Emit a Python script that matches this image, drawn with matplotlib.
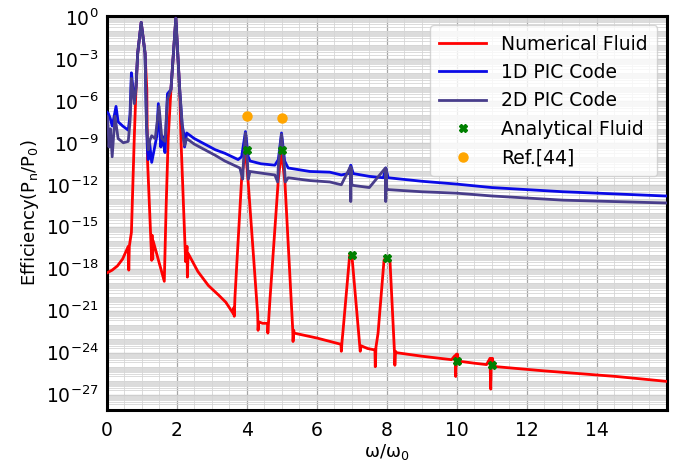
import numpy as np
import matplotlib
matplotlib.use("Agg")
import matplotlib.pyplot as plt
from matplotlib.ticker import LogLocator, MultipleLocator, NullFormatter

# Harmonic spectrum: frequency (omega/omega_0) and log10 of efficiency P_n/P_0

fluid_freq = [0.0, 0.15, 0.3, 0.45, 0.61, 0.625, 0.64, 0.7, 0.78, 0.83, 0.88, 0.98,
              1.09, 1.14, 1.16, 1.28, 1.29, 1.31, 1.32, 1.64, 1.69, 1.75, 1.83, 1.97,
              2.08, 2.12, 2.25, 2.29, 2.3, 2.32, 2.6, 2.9, 3.2, 3.4, 3.61, 3.62, 3.64,
              3.66, 3.85, 3.96, 4.04, 4.31, 4.32, 4.34, 4.45, 4.59, 4.6, 4.62, 4.66,
              4.9, 4.99, 5.09, 5.31, 5.32, 5.34, 5.35, 6.0, 6.69, 6.7, 6.72, 6.75,
              6.94, 7.0, 7.23, 7.24, 7.26, 7.45, 7.66, 7.67, 7.69, 7.75, 7.92, 7.97,
              8.09, 8.22, 8.23, 8.25, 8.28, 9.0, 9.85, 9.95, 9.97, 9.99, 10.0, 10.02,
              10.04, 10.5, 10.85, 10.95, 10.97, 10.99, 11.0, 11.02, 11.05, 11.13,
              12.5, 14.56, 16.0]
fluid_log_eff = [-18.3, -18.1, -17.8, -17.3, -16.4, -18.1, -16.4, -15.4, -8.8, -5.2,
                 -2.6, -0.4, -2.6, -5.2, -10.2, -17.4, -15.6, -17.3, -16.0, -18.9,
                 -13.8, -8.8, -5.2, -0.1, -5.2, -9.0, -17.5, -16.4, -18.6, -16.9,
                 -18.2, -19.2, -19.9, -20.4, -21.2, -20.8, -21.4, -20.0, -11.6, -9.5,
                 -11.9, -21.3, -22.4, -21.8, -21.9, -21.9, -22.6, -21.8, -20.2, -11.6,
                 -9.6, -11.9, -22.3, -23.2, -22.4, -22.6, -22.95, -23.4, -23.9, -23.2,
                 -22.4, -17.0, -17.0, -23.6, -23.9, -23.5, -23.7, -23.8, -25.0, -23.6,
                 -22.6, -17.4, -17.2, -17.4, -24.0, -24.9, -23.9, -24.0, -24.25, -24.5,
                 -24.2, -25.7, -24.1, -24.6, -24.1, -24.6, -24.75, -24.85, -24.4,
                 -26.6, -24.4, -24.9, -24.4, -24.9, -25.0, -25.3, -25.7, -26.05]

pic1d_freq = [0.0, 0.04, 0.1, 0.15, 0.2, 0.26, 0.32, 0.45, 0.61, 0.66, 0.7, 0.74,
              0.78, 0.83, 0.88, 0.98, 1.09, 1.13, 1.16, 1.18, 1.22, 1.28, 1.35,
              1.42, 1.47, 1.51, 1.54, 1.58, 1.61, 1.66, 1.73, 1.83, 1.97, 2.08,
              2.15, 2.2, 2.22, 2.28, 2.5, 2.8, 3.1, 3.37, 3.75, 3.85, 3.96, 4.04,
              4.09, 4.4, 4.8, 4.9, 4.99, 5.08, 5.18, 5.8, 6.37, 6.7, 6.9, 6.97,
              7.04, 7.5, 7.9, 7.97, 8.04, 9.0, 9.99, 11.0, 13.04, 15.94, 16.0]
pic1d_log_eff = [-6.8, -6.9, -7.3, -7.8, -7.2, -6.4, -7.5, -7.8, -8.1, -7.0, -4.0,
                 -5.0, -5.9, -5.0, -2.6, -0.4, -2.6, -7.5, -9.6, -10.2, -9.0, -10.4,
                 -9.5, -8.6, -6.2, -8.2, -9.3, -8.5, -8.9, -9.7, -5.5, -5.2, -0.1,
                 -5.2, -7.7, -8.4, -9.3, -8.3, -8.7, -9.1, -9.5, -9.75, -10.2, -10.0,
                 -8.2, -10.0, -10.3, -10.5, -10.6, -10.2, -8.3, -10.3, -10.8, -11.05,
                 -11.1, -11.3, -11.2, -10.6, -11.2, -11.4, -11.5, -10.8, -11.5,
                 -11.75, -11.95, -12.2, -12.5, -12.8, -12.8]

pic2d_freq = [0.0, 0.02, 0.06, 0.1, 0.15, 0.23, 0.32, 0.47, 0.61, 0.66, 0.7, 0.74,
              0.78, 0.83, 0.88, 0.98, 1.09, 1.13, 1.18, 1.23, 1.28, 1.38, 1.49,
              1.57, 1.66, 1.73, 1.83, 1.97, 2.08, 2.15, 2.19, 2.22, 2.28, 2.5,
              2.8, 3.1, 3.37, 3.8, 3.88, 3.9, 3.96, 4.02, 4.04, 4.09, 4.5, 4.8,
              4.88, 4.9, 4.99, 5.07, 5.1, 5.18, 5.8, 6.37, 6.7, 6.96, 6.97, 6.98,
              7.0, 7.05, 7.5, 7.96, 7.97, 7.98, 8.0, 8.05, 9.0, 9.99, 11.0, 13.04,
              15.94, 16.0]
pic2d_log_eff = [-7.1, -7.2, -9.3, -8.0, -10.0, -7.1, -8.7, -9.0, -8.9, -7.5, -4.4,
                 -5.2, -6.2, -5.2, -2.6, -0.4, -2.6, -7.6, -9.5, -8.8, -8.5, -8.7,
                 -6.4, -8.7, -8.9, -5.9, -5.2, -0.1, -5.2, -7.7, -8.8, -9.2, -8.7,
                 -9.1, -9.5, -9.9, -10.3, -10.8, -11.6, -10.5, -8.3, -10.5, -11.6,
                 -11.05, -11.2, -11.3, -11.8, -10.6, -8.4, -10.6, -11.8, -11.5,
                 -11.7, -11.8, -12.0, -10.7, -13.2, -10.8, -12.0, -12.05, -12.2,
                 -10.8, -13.2, -10.9, -12.35, -12.35, -12.5, -12.6, -12.8, -13.1,
                 -13.3, -13.3]

analytic_freq = [4, 5, 7, 8, 10, 11]
analytic_log_eff = [-9.5, -9.5, -17.0, -17.2, -24.6, -24.9]

ref44_freq = [4, 5]
ref44_log_eff = [-7.07, -7.22]

fig = plt.figure(figsize=(6.81, 4.66), dpi=100)
ax = fig.add_axes([0.157, 0.12, 0.822, 0.846])

ax.plot(fluid_freq, 10.0 ** np.array(fluid_log_eff), color="red", lw=2.0,
        label="Numerical Fluid", zorder=3)
ax.plot(pic1d_freq, 10.0 ** np.array(pic1d_log_eff), color="#0a0ae6", lw=2.0,
        label="1D PIC Code", zorder=4)
ax.plot(pic2d_freq, 10.0 ** np.array(pic2d_log_eff), color="#483d8b", lw=2.0,
        label="2D PIC Code", zorder=5)
ax.plot(analytic_freq, 10.0 ** np.array(analytic_log_eff), ls="none", marker="X",
        ms=6, color="green", label="Analytical Fluid", zorder=6)
ax.plot(ref44_freq, 10.0 ** np.array(ref44_log_eff), ls="none", marker="o",
        ms=6.5, color="orange", label="Ref.[44]", zorder=6)

ax.set_yscale("log")
ax.set_xlim(0, 16)
ax.set_ylim(10 ** -28.1, 10 ** 0.07)

ax.set_xticks([0, 2, 4, 6, 8, 10, 12, 14])
ax.xaxis.set_minor_locator(MultipleLocator(0.5))
ax.set_yticks([10.0 ** -k for k in range(0, 28, 3)])
ax.yaxis.set_minor_locator(LogLocator(base=10, subs=np.arange(1, 10), numticks=200))
ax.yaxis.set_minor_formatter(NullFormatter())

ax.grid(which="major", color="#a6a6a6", lw=0.9)
ax.grid(which="minor", color="#d6d6d6", lw=0.6)
ax.set_axisbelow(True)

ax.tick_params(which="both", direction="in", length=0, labelsize=13.5)
ax.tick_params(axis="x", pad=8)
ax.tick_params(axis="y", pad=6)

for sp in ax.spines.values():
    sp.set_linewidth(2.2)
    sp.set_color("black")

ax.set_xlabel(r"ω/ω$_\mathrm{0}$", fontsize=13, labelpad=1)
ax.set_ylabel(r"Efficiency(P$_\mathrm{n}$/P$_\mathrm{0}$)", fontsize=13, labelpad=3)

ax.legend(loc="upper right", fontsize=13.5, handlelength=2.5, borderpad=0.5,
          labelspacing=0.5, framealpha=0.8)

fig.savefig("out.png", dpi=100)
